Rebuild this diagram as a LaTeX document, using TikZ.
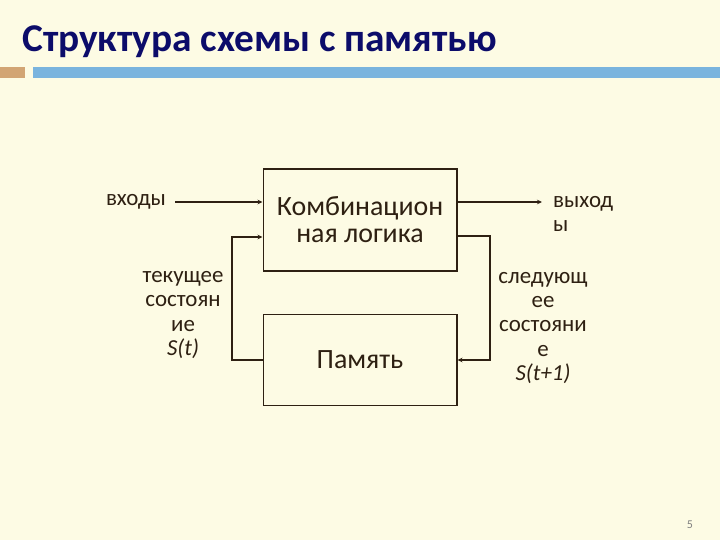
\documentclass[tikz,border=0pt]{standalone}
\usepackage{fontspec}
\setmainfont{Carlito}
\usetikzlibrary{arrows.meta, positioning}
\definecolor{paper}{HTML}{FDFBE4}
\definecolor{titleblue}{HTML}{0C0C6A}
\definecolor{ink}{HTML}{2E2012}
\definecolor{barorange}{HTML}{D2A574}
\definecolor{barblue}{HTML}{7AB4DE}
\tikzset{
	block/.style={draw=ink, line width=2pt, minimum width=193bp,
		align=center, text=ink, inner sep=0pt,
		font=\fontsize{28}{27}\selectfont},
	side/.style={text=ink, align=center, inner sep=0pt,
		font=\fontsize{23}{24.3}\selectfont},
	wire/.style={draw=ink, line width=1.4pt},
	arr/.style={wire, -{Stealth[length=5bp, width=4.5bp]}},
}

\begin{document}
\begin{tikzpicture}[x=1bp, y=-1bp]
	\fill[paper] (0,0) rectangle (720,540);
	\useasboundingbox (0,0) rectangle (720,540);
	% header
	\node[anchor=base west, inner sep=0pt, text=titleblue,
		font=\fontsize{39.5}{42}\selectfont\bfseries] (title) at (22,52)
		{Структура схемы с памятью};
	\fill[barorange] (0,67) rectangle (25,78);
	\fill[barblue] (33,67) rectangle (720,78);
	% blocks
	\node[block, minimum height=102bp] (comb) at (360,220)
		{Комбинацион\\ная логика};
	\node[block, minimum height=91bp] (mem) at (360,360) {Память};
	% labels
	\node[side] (inlbl) at (136,202) {входы};
	\node[side, align=left, anchor=west] (outlbl) at (553,214) {выход\\ы};
	\node[side] (curlbl) at (183,315) {текущее\\состоян\\ие\\\textit{S(t)}};
	\node[side] (nextlbl) at (543,328) {следующ\\ее\\состояни\\е\\\textit{S(t+1)}};
	\node[text=gray, font=\fontsize{12}{14}\selectfont] (page) at (690,525) {5};
	% wires
	\coordinate (inS) at (175,202);
	\coordinate (outS) at (542,202);
	\coordinate (fbL) at (232,237);
	\coordinate (fbR) at (490,236);
	\draw[arr] (inS) -- (inS -| comb.west);
	\draw[arr] (mem.west) -| (fbL) -- (fbL -| comb.west);
	\draw[arr] (outS -| comb.east) -- (outS);
	\draw[arr] (fbR -| comb.east) -- (fbR) |- (mem.east);
\end{tikzpicture}
\end{document}
